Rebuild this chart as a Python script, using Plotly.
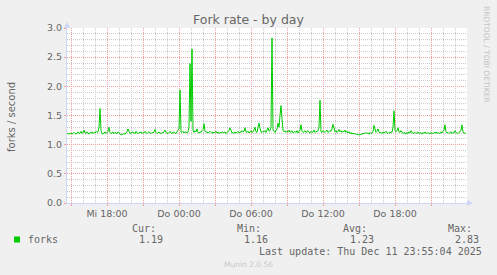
import plotly.graph_objects as go
import pandas as pd

# ---- data (5-minute samples, Mi 2025-12-10 14:40 .. Do 2025-12-11 23:55) ----
start_time = "2025-12-10 14:40"
step_minutes = 5
forks = [
    1.20, 1.19, 1.18, 1.19, 1.20, 1.18, 1.19, 1.21, 1.19, 1.18, 1.20, 1.22,
    1.19, 1.20, 1.23, 1.19, 1.21, 1.25, 1.20, 1.19, 1.22, 1.20, 1.18, 1.21,
    1.20, 1.22, 1.19, 1.21, 1.20, 1.23, 1.21, 1.22, 1.30, 1.62, 1.24, 1.19,
    1.18, 1.20, 1.22, 1.19, 1.21, 1.23, 1.30, 1.21, 1.19, 1.20, 1.22, 1.19,
    1.21, 1.20, 1.19, 1.22, 1.20, 1.18, 1.17, 1.17, 1.18, 1.19, 1.18, 1.20,
    1.22, 1.27, 1.21, 1.19, 1.20, 1.22, 1.20, 1.21, 1.19, 1.23, 1.20, 1.19,
    1.21, 1.20, 1.22, 1.19, 1.21, 1.20, 1.23, 1.20, 1.19, 1.21, 1.22, 1.20,
    1.19, 1.21, 1.20, 1.22, 1.26, 1.21, 1.19, 1.20, 1.22, 1.20, 1.19, 1.21,
    1.20, 1.22, 1.25, 1.21, 1.20, 1.19, 1.21, 1.23, 1.20, 1.19, 1.22, 1.21,
    1.20, 1.19, 1.22, 1.26, 1.28, 1.94, 1.22, 1.21, 1.23, 1.20, 1.22, 1.21,
    1.20, 1.22, 1.30, 2.39, 1.40, 2.64, 1.25, 1.21, 1.24, 1.22, 1.27, 1.21,
    1.20, 1.22, 1.21, 1.24, 1.26, 1.36, 1.23, 1.21, 1.22, 1.20, 1.21, 1.23,
    1.21, 1.19, 1.22, 1.20, 1.21, 1.23, 1.20, 1.22, 1.19, 1.21, 1.20, 1.22,
    1.21, 1.20, 1.22, 1.19, 1.21, 1.23, 1.24, 1.29, 1.22, 1.20, 1.21, 1.19,
    1.22, 1.20, 1.21, 1.23, 1.20, 1.22, 1.21, 1.24, 1.22, 1.23, 1.29, 1.22,
    1.21, 1.23, 1.20, 1.22, 1.24, 1.21, 1.22, 1.25, 1.30, 1.22, 1.21, 1.30,
    1.37, 1.28, 1.22, 1.21, 1.23, 1.22, 1.24, 1.21, 1.25, 1.29, 1.23, 1.24,
    1.30, 2.83, 1.25, 1.22, 1.21, 1.24, 1.27, 1.37, 1.30, 1.50, 1.67, 1.45,
    1.25, 1.22, 1.24, 1.21, 1.23, 1.22, 1.25, 1.21, 1.22, 1.24, 1.20, 1.22,
    1.23, 1.21, 1.24, 1.20, 1.22, 1.25, 1.34, 1.23, 1.21, 1.22, 1.24, 1.21,
    1.22, 1.24, 1.21, 1.20, 1.23, 1.21, 1.22, 1.25, 1.21, 1.23, 1.22, 1.24,
    1.30, 1.76, 1.22, 1.21, 1.24, 1.22, 1.21, 1.23, 1.25, 1.21, 1.22, 1.24,
    1.23, 1.27, 1.35, 1.25, 1.22, 1.24, 1.21, 1.23, 1.26, 1.22, 1.24, 1.21,
    1.23, 1.22, 1.25, 1.21, 1.23, 1.20, 1.22, 1.19, 1.21, 1.18, 1.20, 1.19,
    1.18, 1.19, 1.17, 1.18, 1.16, 1.18, 1.17, 1.19, 1.18, 1.20, 1.19, 1.21,
    1.19, 1.20, 1.18, 1.21, 1.19, 1.20, 1.22, 1.33, 1.24, 1.21, 1.23, 1.27,
    1.22, 1.20, 1.21, 1.19, 1.22, 1.20, 1.21, 1.23, 1.20, 1.19, 1.21, 1.20,
    1.22, 1.21, 1.30, 1.58, 1.25, 1.22, 1.24, 1.29, 1.22, 1.21, 1.24, 1.20,
    1.19, 1.21, 1.20, 1.18, 1.21, 1.19, 1.22, 1.20, 1.24, 1.21, 1.19, 1.20,
    1.21, 1.19, 1.20, 1.22, 1.19, 1.21, 1.20, 1.18, 1.21, 1.19, 1.22, 1.20,
    1.19, 1.21, 1.20, 1.18, 1.21, 1.20, 1.19, 1.21, 1.20, 1.22, 1.19, 1.21,
    1.20, 1.19, 1.22, 1.20, 1.23, 1.25, 1.34, 1.22, 1.20, 1.21, 1.19, 1.20,
    1.22, 1.19, 1.21, 1.20, 1.24, 1.21, 1.20, 1.19, 1.21, 1.22, 1.25, 1.34,
    1.21, 1.20, 1.19, 1.19,
]

x_range = ["2025-12-10 14:40", "2025-12-12 00:00"]
major_tick_times = ["2025-12-10 15:00", "2025-12-10 18:00", "2025-12-10 21:00",
                    "2025-12-11 00:00", "2025-12-11 03:00", "2025-12-11 06:00",
                    "2025-12-11 09:00", "2025-12-11 12:00", "2025-12-11 15:00",
                    "2025-12-11 18:00", "2025-12-11 21:00"]
major_tick_labels = ["", "Mi 18:00", "", "Do 00:00", "", "Do 06:00",
                     "", "Do 12:00", "", "Do 18:00", ""]
y_ticks = [0.0, 0.5, 1.0, 1.5, 2.0, 2.5, 3.0]
y_tick_labels = ["0.0", "0.5", "1.0", "1.5", "2.0", "2.5", "3.0"]

series_name = "forks"
stat_labels = ["Cur:", "Min:", "Avg:", "Max:"]
stat_values = ["1.19", "1.16", "1.23", "2.83"]
title_text = "Fork rate - by day"
y_title = "forks / second"
last_update = "Last update: Thu Dec 11 23:55:04 2025"
version_text = "Munin 2.0.56"
side_text = "RRDTOOL / TOBI OETIKER"

times = pd.date_range(start=start_time, periods=len(forks), freq=f"{step_minutes}min")

# minor grid positions (hourly / every 0.1), skipping the major ones
hours = pd.date_range("2025-12-10 15:00", "2025-12-11 23:00", freq="1h")
minor_x = [h.strftime("%Y-%m-%d %H:%M") for h in hours if h.hour % 3 != 0]
minor_y = [round(k / 10, 1) for k in range(1, 30) if k % 5 != 0]

# ---- geometry ----
W, H = 497, 275
L, R, T, B = 67, 30, 28, 72
PW, PH = W - L - R, H - T - B

def px(x):
    return (x - L) / PW

def py(y):
    return (H - B - y) / PH

TXT = "#666666"
AXIS = "#CFD6F8"
GREEN = "#00CC00"
MAJOR = "#F0A0A0"
MINOR = "#CCCCCC"
DASH = "1px,1px"

fig = go.Figure()
fig.add_trace(go.Scatter(x=times, y=forks, mode="lines",
                         line=dict(color=GREEN, width=1), hoverinfo="skip",
                         showlegend=False))

fig.update_layout(
    width=W, height=H,
    margin=dict(l=L, r=R, t=T, b=B, pad=0),
    paper_bgcolor="#F0F0F0", plot_bgcolor="#FFFFFF",
    showlegend=False,
    font=dict(family="DejaVu Sans", color=TXT, size=9.5),
)

fig.update_xaxes(
    range=x_range, type="date",
    tickmode="array", tickvals=major_tick_times, ticktext=major_tick_labels,
    showgrid=True, gridcolor=MAJOR, griddash=DASH, gridwidth=1,
    ticks="outside", ticklen=2, tickcolor=MAJOR, tickwidth=1,
    tickfont=dict(family="DejaVu Sans", size=9.5, color=TXT),
    showline=True, linecolor=AXIS, linewidth=1,
    zeroline=False, fixedrange=True,
    minor=dict(tickmode="array", tickvals=minor_x, showgrid=True,
               gridcolor=MINOR, griddash=DASH, gridwidth=1, ticks=""),
)
fig.update_yaxes(
    range=[0, 3], tickmode="array", tickvals=y_ticks, ticktext=y_tick_labels,
    showgrid=True, gridcolor=MAJOR, griddash=DASH, gridwidth=1,
    ticks="outside", ticklen=2, tickcolor=MAJOR, tickwidth=1,
    tickfont=dict(family="DejaVu Sans", size=9.5, color=TXT),
    showline=True, linecolor=AXIS, linewidth=1,
    zeroline=False, fixedrange=True,
    minor=dict(tickmode="array", tickvals=minor_y, showgrid=True,
               gridcolor=MINOR, griddash=DASH, gridwidth=1, ticks=""),
)

# axis arrows
fig.add_shape(type="path", xref="paper", yref="paper",
              path=f"M {px(467)},{py(200)} L {px(473)},{py(203)} L {px(467)},{py(206)} Z",
              fillcolor=AXIS, line=dict(color=AXIS, width=0))
fig.add_shape(type="path", xref="paper", yref="paper",
              path=f"M {px(64)},{py(28)} L {px(67)},{py(22)} L {px(70)},{py(28)} Z",
              fillcolor=AXIS, line=dict(color=AXIS, width=0))

# legend colour box
fig.add_shape(type="rect", xref="paper", yref="paper",
              x0=px(14), x1=px(20), y0=py(236.5), y1=py(242.5),
              fillcolor=GREEN, line=dict(width=0))

def text(x, y, s, size=10, family="DejaVu Sans Mono", color=TXT,
         xanchor="left", angle=0):
    fig.add_annotation(x=px(x), y=py(y), xref="paper", yref="paper", text=s,
                       showarrow=False, xanchor=xanchor, yanchor="middle",
                       textangle=angle, borderpad=0,
                       font=dict(family=family, size=size, color=color))

text(248.5, 19, title_text, size=12.5, family="DejaVu Sans", xanchor="center")
text(11, 117, y_title, size=10, family="DejaVu Sans", xanchor="center", angle=-90)
text(487, 54, side_text, size=7.5, family="DejaVu Sans", color="#C4C4C4",
     xanchor="center", angle=90)

text(26.5, 239.5, series_name)
stat_x = [131, 236, 342, 447]
for sx, lab, val in zip(stat_x, stat_labels, stat_values):
    text(sx, 228, lab)
    text(sx + 6.5, 239.5, val)
text(483, 251, last_update, xanchor="right")
text(248, 264, version_text, size=7.5, family="DejaVu Sans", color="#C8C8C8",
     xanchor="center")

fig.write_html("out.html")
